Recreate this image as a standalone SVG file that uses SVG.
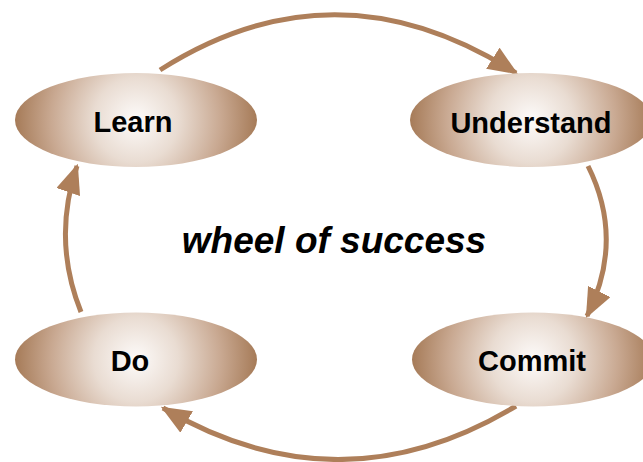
<svg xmlns="http://www.w3.org/2000/svg" width="643" height="462" viewBox="0 0 643 462">
<defs>
<radialGradient id="g" cx="0.5" cy="0.5" r="0.5" gradientTransform="translate(0.5,0.5) scale(1,2.57) translate(-0.5,-0.5)">
<stop offset="0" stop-color="#fdfbfa"/>
<stop offset="0.35" stop-color="#e9dcd2"/>
<stop offset="0.7" stop-color="#c9a992"/>
<stop offset="1" stop-color="#a67b58"/>
</radialGradient>
<marker id="ah" viewBox="0 0 12 10" refX="11" refY="5" markerWidth="6" markerHeight="5" orient="auto" markerUnits="strokeWidth">
<path d="M0,0 L12,5 L0,10 Z" fill="#ae7f5a"/>
</marker>
<style>
.n{fill:url(#g);}
.t{font-family:"Liberation Sans",Arial,sans-serif;font-weight:bold;font-size:29px;fill:#000;text-anchor:middle;}
.c{fill:none;stroke:#ae7f5a;stroke-width:5;marker-end:url(#ah);}
</style>
</defs>
<g id="connectors">
<path class="c" d="M160,70 Q336,-42 516,73"/>
<path class="c" d="M588,166 Q625,240 587,316"/>
<path class="c" d="M516,406 Q340,512 163,408"/>
<path class="c" d="M81,312 Q52,240 77,166"/>
</g>
<g id="learn">
<ellipse class="n" cx="136" cy="120" rx="121" ry="47"/>
<text class="t" x="133" y="132">Learn</text>
</g>
<g id="understand">
<ellipse class="n" cx="531" cy="120" rx="121" ry="47"/>
<text class="t" x="531" y="133">Understand</text>
</g>
<g id="do">
<ellipse class="n" cx="136" cy="359.5" rx="121" ry="47"/>
<text class="t" x="130" y="371">Do</text>
</g>
<g id="commit">
<ellipse class="n" cx="533" cy="359.5" rx="121" ry="47"/>
<text class="t" x="532" y="371">Commit</text>
</g>
<g id="title">
<text x="334" y="253" font-family="Liberation Sans,Arial,sans-serif" font-weight="bold" font-style="italic" font-size="37" text-anchor="middle">wheel of success</text>
</g>
</svg>
